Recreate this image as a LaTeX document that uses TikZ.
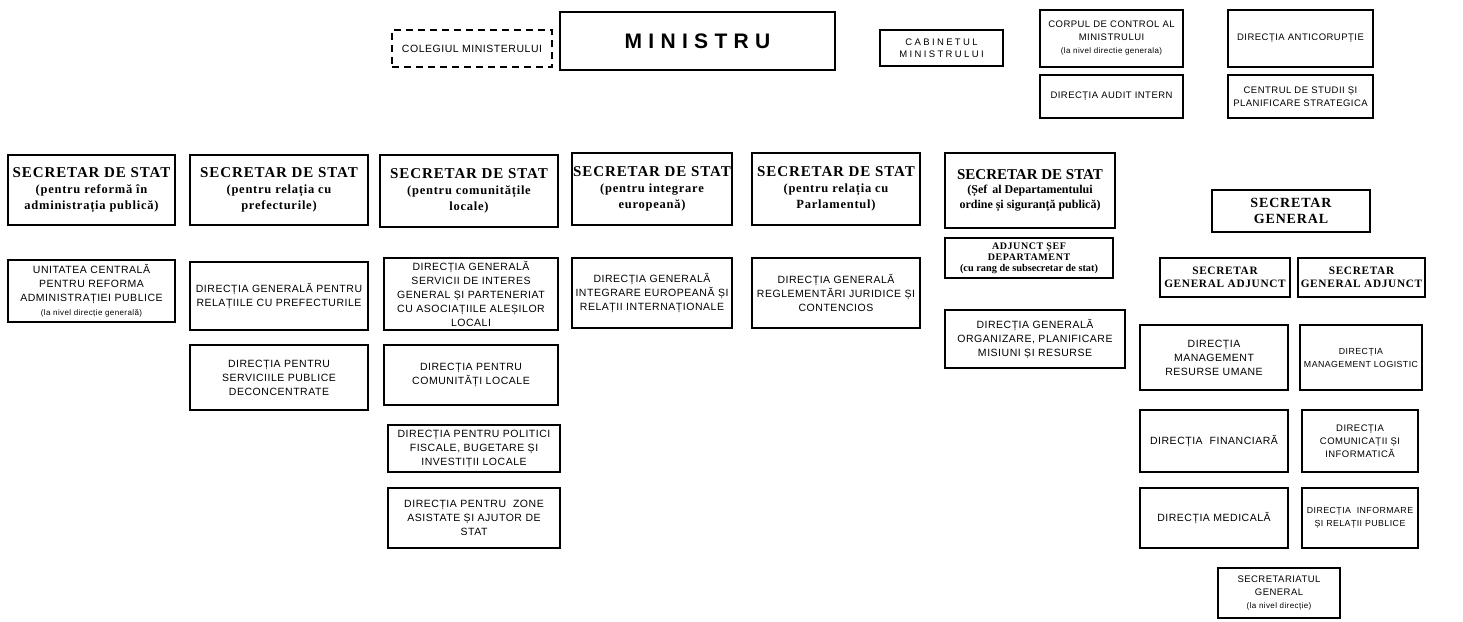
\documentclass[tikz,border=0pt]{standalone}
\usepackage{fontspec}
\setmainfont{Liberation Serif}
\newfontfamily\dirfont[LetterSpace=5]{Liberation Sans}
\newfontfamily\spfont[LetterSpace=6]{Liberation Serif}
\newfontfamily\minfont[LetterSpace=30]{Liberation Sans}
\newfontfamily\cabfont[LetterSpace=25]{Liberation Sans}
\tikzset{
  box/.style={draw, line width=1.3pt, inner sep=0pt, align=center,
    font=\dirfont\fontsize{10.5}{14}\selectfont},
  smallbox/.style={box, font=\dirfont\fontsize{9.5}{13}\selectfont},
  tinybox/.style={box, font=\dirfont\fontsize{8.8}{13}\selectfont},
  secbox/.style={box, line width=1.8pt, font=\spfont\bfseries\fontsize{12.5}{16}\selectfont},
  sgbox/.style={box, line width=1.6pt, font=\spfont\bfseries\fontsize{14}{15.5}\selectfont},
  sgabox/.style={box, line width=1.5pt, font=\spfont\bfseries\fontsize{11.3}{12.5}\selectfont},
  dashbox/.style={box, dash pattern=on 7pt off 5pt},
}
% #1 style, #2 name, #3 x1, #4 y1, #5 x2, #6 y2, #7 text
\newcommand\mkbox[7][box]{\node[#1, minimum width={(#5-#3)*1pt}, minimum height={(#6-#4)*1pt}] (#2) at ({(#3+#5)/2},{(#4+#6)/2}) {#7};}
\newcommand\sectitle{{\fontsize{15}{16}\selectfont SECRETAR DE STAT}}
\begin{document}
\begin{tikzpicture}[x=1pt,y=-1pt]
\useasboundingbox (0,0) rectangle (1463,621);
% top row
\mkbox[dashbox]{coleg}{392}{30}{552}{67}{COLEGIUL MINISTERULUI}
\mkbox[box, line width=1.8pt, font=\minfont\bfseries\fontsize{21}{22}\selectfont]{min}{560}{12}{835}{70}{MINISTRU}
\mkbox[box, font=\cabfont\fontsize{9.5}{12}\selectfont]{cab}{880}{30}{1003}{66}{CABINETUL\\MINISTRULUI}
\mkbox[smallbox]{corp}{1040}{10}{1183}{67}{CORPUL DE CONTROL AL\\MINISTRULUI\\{\fontsize{8}{12}\selectfont (la nivel directie generala)}}
\mkbox[smallbox]{anti}{1228}{10}{1373}{67}{DIRECȚIA ANTICORUPȚIE}
\mkbox[smallbox]{audit}{1040}{75}{1183}{118}{DIRECȚIA AUDIT INTERN}
\mkbox[smallbox]{centr}{1228}{75}{1373}{118}{CENTRUL DE STUDII ȘI\\PLANIFICARE STRATEGICA}
% secretari de stat
\mkbox[secbox]{s1}{8}{155}{175}{225}{\sectitle\\(pentru reformă în\\administrația publică)}
\mkbox[secbox]{s2}{190}{155}{368}{225}{\sectitle\\(pentru relația cu\\prefecturile)}
\mkbox[secbox]{s3}{380}{155}{558}{227}{\sectitle\\(pentru comunitățile\\locale)}
\mkbox[secbox]{s4}{572}{153}{732}{225}{\sectitle\\(pentru integrare\\europeană)}
\mkbox[secbox]{s5}{752}{153}{920}{225}{\sectitle\\(pentru relația cu\\Parlamentul)}
\mkbox[secbox, font=\rmfamily\bfseries\fontsize{12}{14.5}\selectfont]{s6}{945}{153}{1115}{228}{\sectitle\\(Șef\, al Departamentului\\ordine și siguranță publică)}
% secretar general
\mkbox[sgbox]{sg}{1212}{190}{1370}{232}{SECRETAR\\GENERAL}
\mkbox[sgabox]{sga1}{1160}{258}{1290}{297}{SECRETAR\\GENERAL ADJUNCT}
\mkbox[sgabox]{sga2}{1298}{258}{1425}{297}{SECRETAR\\GENERAL ADJUNCT}
% row 3
\mkbox{unit}{8}{260}{175}{322}{UNITATEA CENTRALĂ\\PENTRU REFORMA\\ADMINISTRAȚIEI PUBLICE\\{\fontsize{8}{12}\selectfont (la nivel direcție generală)}}
\mkbox{dgpref}{190}{262}{368}{330}{DIRECȚIA GENERALĂ PENTRU\\RELAȚIILE CU PREFECTURILE}
\mkbox{dgserv}{384}{258}{558}{330}{DIRECȚIA GENERALĂ\\SERVICII DE INTERES\\GENERAL ȘI PARTENERIAT\\CU ASOCIAȚIILE ALEȘILOR\\LOCALI}
\mkbox{dgint}{572}{258}{732}{328}{DIRECȚIA GENERALĂ\\INTEGRARE EUROPEANĂ ȘI\\RELAȚII INTERNAȚIONALE}
\mkbox{dgregl}{752}{258}{920}{328}{DIRECȚIA GENERALĂ\\REGLEMENTĂRI JURIDICE ȘI\\CONTENCIOS}
\mkbox[box, line width=1.6pt, font=\spfont\bfseries\fontsize{10}{11}\selectfont]{adj}{945}{238}{1113}{278}{ADJUNCT ȘEF\\DEPARTAMENT\\{\rmfamily\fontsize{10.3}{11}\selectfont (cu rang de subsecretar de stat)}}
\mkbox{dgorg}{945}{310}{1125}{368}{DIRECȚIA GENERALĂ\\ORGANIZARE, PLANIFICARE\\MISIUNI ȘI RESURSE}
% row 4
\mkbox{dserv}{190}{345}{368}{410}{DIRECȚIA PENTRU\\SERVICIILE PUBLICE\\DECONCENTRATE}
\mkbox{dcom}{384}{345}{558}{405}{DIRECȚIA PENTRU\\COMUNITĂȚI LOCALE}
\mkbox{drum}{1140}{325}{1288}{390}{DIRECȚIA\\MANAGEMENT\\RESURSE UMANE}
\mkbox[tinybox]{dlog}{1300}{325}{1422}{390}{DIRECȚIA\\MANAGEMENT LOGISTIC}
% row 5
\mkbox{dfisc}{388}{425}{560}{472}{DIRECȚIA PENTRU POLITICI\\FISCALE, BUGETARE ȘI\\INVESTIȚII LOCALE}
\mkbox{dfin}{1140}{410}{1288}{472}{DIRECȚIA\ \ FINANCIARĂ}
\mkbox[smallbox]{dcomm}{1302}{410}{1418}{472}{DIRECȚIA\\COMUNICAȚII ȘI\\INFORMATICĂ}
% row 6
\mkbox{dzone}{388}{488}{560}{548}{DIRECȚIA PENTRU\ \ ZONE\\ASISTATE ȘI AJUTOR DE\\STAT}
\mkbox{dmed}{1140}{488}{1288}{548}{DIRECȚIA MEDICALĂ}
\mkbox[tinybox]{dinf}{1302}{488}{1418}{548}{DIRECȚIA\ \ INFORMARE\\ȘI RELAȚII PUBLICE}
% row 7
\mkbox[smallbox]{dsecr}{1218}{568}{1340}{618}{SECRETARIATUL\\GENERAL\\{\fontsize{8}{12}\selectfont (la nivel direcție)}}
\end{tikzpicture}
\end{document}
